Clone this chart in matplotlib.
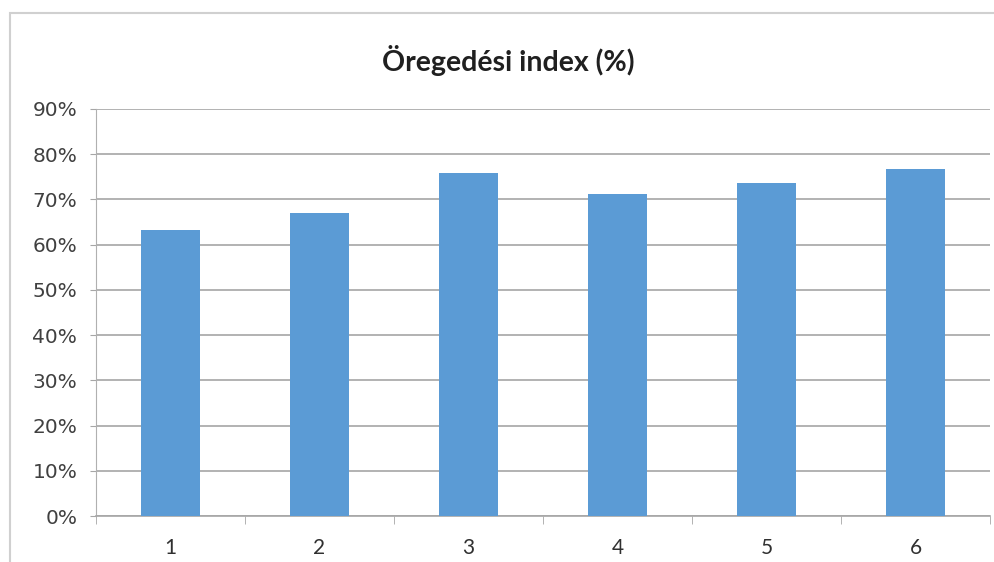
import numpy as np
import matplotlib.pyplot as plt
from matplotlib.patches import Rectangle
from matplotlib.ticker import FuncFormatter

# data
categories = ['1', '2', '3', '4', '5', '6']
values = [63.3, 67.0, 75.9, 71.2, 73.6, 76.7]
yticks = [0, 10, 20, 30, 40, 50, 60, 70, 80, 90]

plt.rcParams['font.family'] = ['Lato', 'DejaVu Sans']

fig = plt.figure(figsize=(9.95, 5.62), dpi=100)
ax = fig.add_axes([96/995, 1-516/562, 894/995, 407/562])

# outer chart border
fig.patches.append(Rectangle((10/995, -0.05), 1.1, 1-13/562+0.05, transform=fig.transFigure,
                             fill=False, edgecolor='#d0d0d0', linewidth=1.5))

x = np.arange(len(categories))
ax.bar(x, values, width=0.4, color='#5b9bd5', zorder=3)

ax.set_xlim(-0.5, len(categories)-0.5)
ax.set_ylim(0, 90)
ax.set_yticks(yticks)
ax.yaxis.set_major_formatter(FuncFormatter(lambda v, p: '%d%%' % v))
ax.grid(axis='y', color='#a6a6a6', linewidth=1.2, zorder=0)

ax.set_xticks(x)
ax.set_xticklabels(categories, fontsize=15)
ax.set_xticks(np.arange(-0.5, len(categories)), minor=True)
ax.tick_params(axis='x', which='major', length=0, pad=16, colors='#303030')
ax.tick_params(axis='x', which='minor', length=6, color='#a6a6a6', direction='out')
ax.tick_params(axis='y', length=4.5, color='#a6a6a6', pad=9, labelcolor='#404040')
for lab in ax.get_yticklabels():
    lab.set_family('DejaVu Sans')
    lab.set_fontsize(14.5)

for s in ['top', 'right']:
    ax.spines[s].set_visible(False)
ax.spines['left'].set_color('#b0b0b0')
ax.spines['bottom'].set_color('#a6a6a6')
ax.spines['bottom'].set_linewidth(1.2)

fig.text(508/995, 1-61/562, 'Öregedési index (%)', ha='center', va='center',
         fontsize=20.5, fontweight='bold', color='#202020')

plt.savefig('out.png', dpi=100)
